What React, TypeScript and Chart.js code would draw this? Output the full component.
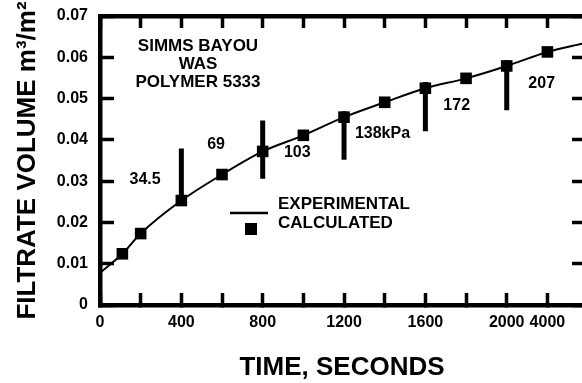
import { useEffect, useRef } from "react";
import { Chart, registerables } from "chart.js";

Chart.register(...registerables);

// ---- data ----
const curveTimes = [0, 110, 200, 400, 600, 800, 1000, 1200, 1400, 1600, 1800, 2000, 2200, 2380];
const curveVolumes = [0.0078, 0.0124, 0.0173, 0.0253, 0.0316, 0.0372, 0.0411, 0.0455, 0.0491, 0.0525, 0.0549, 0.0579, 0.0613, 0.0634];

const squareTimes = [110, 200, 400, 600, 800, 1000, 1200, 1400, 1600, 1800, 2000, 2200];
const squareVolumes = [0.0124, 0.0173, 0.0253, 0.0316, 0.0372, 0.0411, 0.0455, 0.0491, 0.0525, 0.0549, 0.0579, 0.0613];

const stepTimes = [400, 800, 1200, 1600, 2000];
const stepTops = [0.0379, 0.0447, 0.0469, 0.054, 0.0593];
const stepBottoms = [0.024, 0.0306, 0.0352, 0.0421, 0.0472];

const pressureLabels = ["34.5", "69", "103", "138kPa", "172", "207"];
const pressureTimes = [222, 571, 970, 1389, 1754, 2172];
const pressureVolumes = [0.0304, 0.0389, 0.0369, 0.0416, 0.0484, 0.0537];

const xTickValues = [0, 400, 800, 1200, 1600, 2000, 2200];
const xTickLabels = ["0", "400", "800", "1200", "1600", "2000", "4000"];
const xAllTicks = [0, 200, 400, 600, 800, 1000, 1200, 1400, 1600, 1800, 2000, 2200];
const yTickLabels = ["0", "0.01", "0.02", "0.03", "0.04", "0.05", "0.06", "0.07"];

const X_MIN = 0;
const X_MAX = 2380;
const Y_MIN = 0;
const Y_MAX = 0.07;

const noteLines = ["SIMMS BAYOU", "WAS", "POLYMER 5333"];
const legendLabels = ["EXPERIMENTAL", "CALCULATED"];

const FONT = "'Liberation Sans', Arial, Helvetica, sans-serif";

const textPlugin = {
  id: "notesAndLegend",
  afterDatasetsDraw(chart: any) {
    const ctx = chart.ctx;
    const xs = chart.scales.x;
    const ys = chart.scales.y;
    const L = xs.getPixelForValue(X_MIN);
    const T = ys.getPixelForValue(Y_MAX);
    ctx.save();
    ctx.fillStyle = "#000";

    ctx.font = `bold 16px ${FONT}`;
    ctx.textAlign = "center";
    ctx.textBaseline = "middle";
    pressureLabels.forEach((s, i) => {
      ctx.fillText(s, xs.getPixelForValue(pressureTimes[i]), ys.getPixelForValue(pressureVolumes[i]));
    });

    ctx.font = `bold 17px ${FONT}`;
    noteLines.forEach((s, i) => {
      ctx.fillText(s, L + 98, T + 30 + i * 18);
    });

    const lx = L + 130;
    const ly = T + 197;
    ctx.fillRect(lx, ly - 1.25, 38, 2.5);
    ctx.fillRect(lx + 15, ly + 10, 12, 12);
    ctx.textAlign = "left";
    ctx.font = `bold 17px ${FONT}`;
    ctx.fillText(legendLabels[0], lx + 48, ly - 9);
    ctx.fillText(legendLabels[1], lx + 48, ly + 10);
    ctx.restore();
  },
};

const frameBorder = { display: true, width: 4.5, color: "#000" };
const xTicksBuilder = (s: any) => {
  s.ticks = xAllTicks.map((v) => ({ value: v }));
};

export default function App() {
  const ref = useRef<HTMLCanvasElement | null>(null);

  useEffect(() => {
    if (!ref.current) return;
    Chart.defaults.font.family = FONT;
    Chart.defaults.color = "#000";

    const stepData: any[] = [];
    stepTimes.forEach((t, i) => {
      stepData.push({ x: t, y: stepTops[i] });
      stepData.push({ x: t, y: stepBottoms[i] });
      stepData.push({ x: t, y: null });
    });

    const chart = new Chart(ref.current, {
      type: "line",
      data: {
        datasets: [
          {
            label: legendLabels[0],
            data: curveTimes.map((t, i) => ({ x: t, y: curveVolumes[i] })),
            borderColor: "#000",
            borderWidth: 2,
            pointRadius: 0,
            cubicInterpolationMode: "monotone",
            fill: false,
          },
          {
            label: legendLabels[1],
            data: squareTimes.map((t, i) => ({ x: t, y: squareVolumes[i] })),
            showLine: false,
            pointStyle: "rect",
            pointRadius: 8.2,
            pointBackgroundColor: "#000",
            pointBorderColor: "#000",
            pointBorderWidth: 0,
          },
          {
            label: "steps",
            data: stepData,
            borderColor: "#000",
            borderWidth: 5,
            borderCapStyle: "butt",
            pointRadius: 0,
            tension: 0,
            spanGaps: false,
          },
        ],
      } as any,
      options: {
        animation: false,
        responsive: false,
        layout: { padding: { left: 0, top: 16, right: 16, bottom: 0 } },
        plugins: { legend: { display: false }, tooltip: { enabled: false } },
        scales: {
          x: {
            type: "linear",
            position: "bottom",
            min: X_MIN,
            max: X_MAX,
            afterBuildTicks: xTicksBuilder,
            afterFit: (s: any) => {
              s.height = 78;
              s.paddingLeft = 0;
              s.paddingRight = 0;
            },
            grid: {
              display: true,
              drawOnChartArea: false,
              drawTicks: true,
              tickLength: -12,
              tickWidth: 3.5,
              color: "#000",
            },
            border: frameBorder,
            ticks: {
              autoSkip: false,
              maxRotation: 0,
              padding: 20,
              color: "#000",
              font: { size: 16, weight: "bold" },
              callback: (v: any) => {
                const k = xTickValues.indexOf(Number(v));
                return k >= 0 ? xTickLabels[k] : "";
              },
            },
            title: {
              display: true,
              text: "TIME, SECONDS",
              color: "#000",
              font: { size: 26, weight: "bold" },
              padding: { top: 0, bottom: 0 },
            },
          },
          xTop: {
            type: "linear",
            position: "top",
            min: X_MIN,
            max: X_MAX,
            afterBuildTicks: xTicksBuilder,
            afterFit: (s: any) => {
              s.height = 0;
              s.paddingLeft = 0;
              s.paddingRight = 0;
            },
            grid: {
              display: true,
              drawOnChartArea: false,
              drawTicks: true,
              tickLength: -12,
              tickWidth: 3.5,
              color: "#000",
            },
            border: frameBorder,
            ticks: { display: false },
          },
          y: {
            type: "linear",
            position: "left",
            min: Y_MIN,
            max: Y_MAX,
            afterFit: (s: any) => {
              s.width = 100;
              s.paddingTop = 0;
              s.paddingBottom = 0;
            },
            grid: {
              display: true,
              drawOnChartArea: false,
              drawTicks: true,
              tickLength: -14,
              tickWidth: 3.5,
              color: "#000",
            },
            border: frameBorder,
            ticks: {
              stepSize: 0.01,
              padding: 26,
              color: "#000",
              font: { size: 16, weight: "bold" },
              callback: (_v: any, i: number) => yTickLabels[i],
            },
            title: {
              display: true,
              text: "FILTRATE VOLUME m³/m²",
              color: "#000",
              font: { size: 26, weight: "bold" },
              padding: { top: 12, bottom: 0 },
            },
          },
          yRight: {
            type: "linear",
            position: "right",
            min: Y_MIN,
            max: Y_MAX,
            afterFit: (s: any) => {
              s.width = 0;
              s.paddingTop = 0;
              s.paddingBottom = 0;
            },
            grid: {
              display: true,
              drawOnChartArea: false,
              drawTicks: true,
              tickLength: -12,
              tickWidth: 3.5,
              color: "#000",
            },
            border: frameBorder,
            ticks: { display: false, stepSize: 0.01 },
          },
        },
      } as any,
      plugins: [textPlugin],
    });
    return () => chart.destroy();
  }, []);

  return (
    <div
      style={{
        position: "fixed",
        left: 0,
        top: 0,
        width: 582,
        height: 383,
        overflow: "hidden",
        background: "#fff",
      }}
    >
      <canvas ref={ref} width={600} height={383} style={{ width: 600, height: 383, display: "block" }} />
    </div>
  );
}
